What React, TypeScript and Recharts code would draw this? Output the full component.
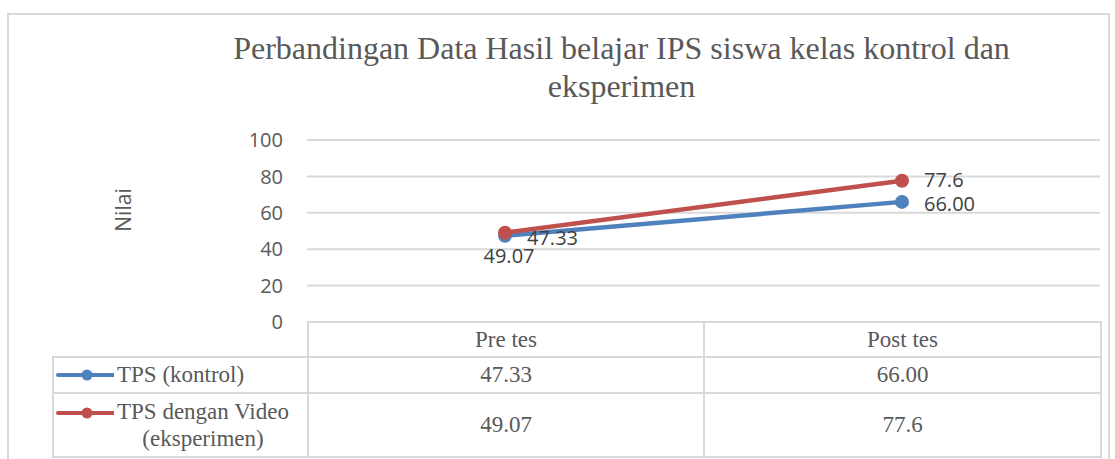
import { LineChart, Line, XAxis, YAxis, CartesianGrid, LabelList } from 'recharts';

// chart values
const categories = ['Pre tes', 'Post tes'];
const kontrolValues = [47.33, 66.0];
const eksperimenValues = [49.07, 77.6];
const kontrolText = ['47.33', '66.00'];
const eksperimenText = ['49.07', '77.6'];
const yTicks = [0, 20, 40, 60, 80, 100];
const seriesNames = ['TPS (kontrol)', 'TPS dengan Video (eksperimen)'];

const BLUE = '#4f81bd';
const RED = '#c0504d';
const GRID = '#d9d9d9';
const SANS = '"Open Sans", sans-serif';
const SERIF = '"Liberation Serif", "Times New Roman", serif';

interface Row {
  name: string;
  kontrol: number;
  eksperimen: number;
}

const data: Row[] = categories.map((c, i) => ({
  name: c,
  kontrol: kontrolValues[i],
  eksperimen: eksperimenValues[i],
}));

interface LabelProps {
  x?: number;
  y?: number;
  index?: number;
}

// blue labels sit to the right of each point
const KontrolLabel = ({ x = 0, y = 0, index = 0 }: LabelProps) => (
  <text x={x + 22} y={y + 2} dominantBaseline="central" textAnchor="start" fill="#404040" fontSize={20} fontFamily={SANS}>
    {kontrolText[index]}
  </text>
);

// red label goes below on the first point, right on the second
const EksperimenLabel = ({ x = 0, y = 0, index = 0 }: LabelProps) =>
  index === 0 ? (
    <text x={x + 4} y={y + 23} dominantBaseline="central" textAnchor="middle" fill="#404040" fontSize={20} fontFamily={SANS}>
      {eksperimenText[index]}
    </text>
  ) : (
    <text x={x + 22} y={y - 1} dominantBaseline="central" textAnchor="start" fill="#404040" fontSize={20} fontFamily={SANS}>
      {eksperimenText[index]}
    </text>
  );

const LegendIcon = ({ color }: { color: string }) => (
  <svg width={60} height={14} style={{ display: 'block', flex: 'none' }}>
    <line x1={4} y1={7} x2={60} y2={7} stroke={color} strokeWidth={4} strokeLinecap="round" />
    <circle cx={33} cy={7} r={5.5} fill={color} />
  </svg>
);

const cell: React.CSSProperties = {
  border: `2px solid ${GRID}`,
  padding: 0,
  textAlign: 'center',
  verticalAlign: 'middle',
};

export default function App() {
  return (
    <div style={{ position: 'absolute', left: 0, top: 0, width: 1115, height: 459, background: '#fff', overflow: 'hidden' }}>
      {/* chart frame */}
      <div style={{ position: 'absolute', left: 7, top: 13, width: 1099, height: 470, border: `2px solid ${GRID}` }} />

      <div
        style={{
          position: 'absolute',
          left: 0,
          top: 29,
          width: 1243,
          textAlign: 'center',
          fontFamily: SERIF,
          fontSize: 32,
          lineHeight: '38px',
          color: '#595959',
        }}
      >
        Perbandingan Data Hasil belajar IPS siswa kelas kontrol dan
        <br />
        eksperimen
      </div>

      <div
        style={{
          position: 'absolute',
          left: 123,
          top: 210,
          transform: 'translate(-50%, -50%) rotate(-90deg)',
          fontFamily: SANS,
          fontSize: 21,
          color: '#595959',
          whiteSpace: 'nowrap',
        }}
      >
        Nilai
      </div>

      <div style={{ position: 'absolute', left: 0, top: 0 }}>
        <LineChart width={1115} height={459} data={data} margin={{ top: 140, right: 15, bottom: 137, left: 247 }}>
          <CartesianGrid vertical={false} stroke={GRID} strokeWidth={2} />
          <XAxis dataKey="name" hide padding={{ left: 198, right: 198 }} />
          <YAxis
            width={60}
            domain={[0, 100]}
            ticks={yTicks}
            axisLine={false}
            tickLine={false}
            tickMargin={18}
            tick={{ fill: '#595959', fontSize: 20, fontFamily: SANS }}
          />
          <Line
            dataKey="kontrol"
            name={seriesNames[0]}
            stroke={BLUE}
            strokeWidth={4.5}
            dot={{ r: 7, fill: BLUE, stroke: BLUE, strokeWidth: 0 }}
            isAnimationActive={false}
          >
            <LabelList dataKey="kontrol" content={KontrolLabel} />
          </Line>
          <Line
            dataKey="eksperimen"
            name={seriesNames[1]}
            stroke={RED}
            strokeWidth={4.5}
            dot={{ r: 7, fill: RED, stroke: RED, strokeWidth: 0 }}
            isAnimationActive={false}
          >
            <LabelList dataKey="eksperimen" content={EksperimenLabel} />
          </Line>
        </LineChart>
      </div>

      {/* data table under the plot */}
      <table
        style={{
          position: 'absolute',
          left: 52,
          top: 321,
          borderCollapse: 'collapse',
          tableLayout: 'fixed',
          fontFamily: SERIF,
          fontSize: 23,
          color: '#595959',
        }}
      >
        <colgroup>
          <col style={{ width: 255 }} />
          <col style={{ width: 396 }} />
          <col style={{ width: 397 }} />
        </colgroup>
        <tbody>
          <tr style={{ height: 35 }}>
            <td style={{ ...cell, border: 'none' }} />
            {categories.map((c) => (
              <td key={c} style={cell}>{c}</td>
            ))}
          </tr>
          <tr style={{ height: 36 }}>
            <td style={{ ...cell, textAlign: 'left' }}>
              <div style={{ display: 'flex', alignItems: 'center', gap: 3 }}>
                <LegendIcon color={BLUE} />
                <span>{seriesNames[0]}</span>
              </div>
            </td>
            {kontrolText.map((t, i) => (
              <td key={i} style={cell}>{t}</td>
            ))}
          </tr>
          <tr style={{ height: 64 }}>
            <td style={{ ...cell, textAlign: 'left' }}>
              <div style={{ display: 'flex', alignItems: 'flex-start', gap: 3 }}>
                <div style={{ marginTop: 8 }}>
                  <LegendIcon color={RED} />
                </div>
                <div style={{ textAlign: 'center', lineHeight: '27px', whiteSpace: 'pre-line' }}>
                  {seriesNames[1].replace(' (', '\n(')}
                </div>
              </div>
            </td>
            {eksperimenText.map((t, i) => (
              <td key={i} style={cell}>{t}</td>
            ))}
          </tr>
        </tbody>
      </table>
    </div>
  );
}
